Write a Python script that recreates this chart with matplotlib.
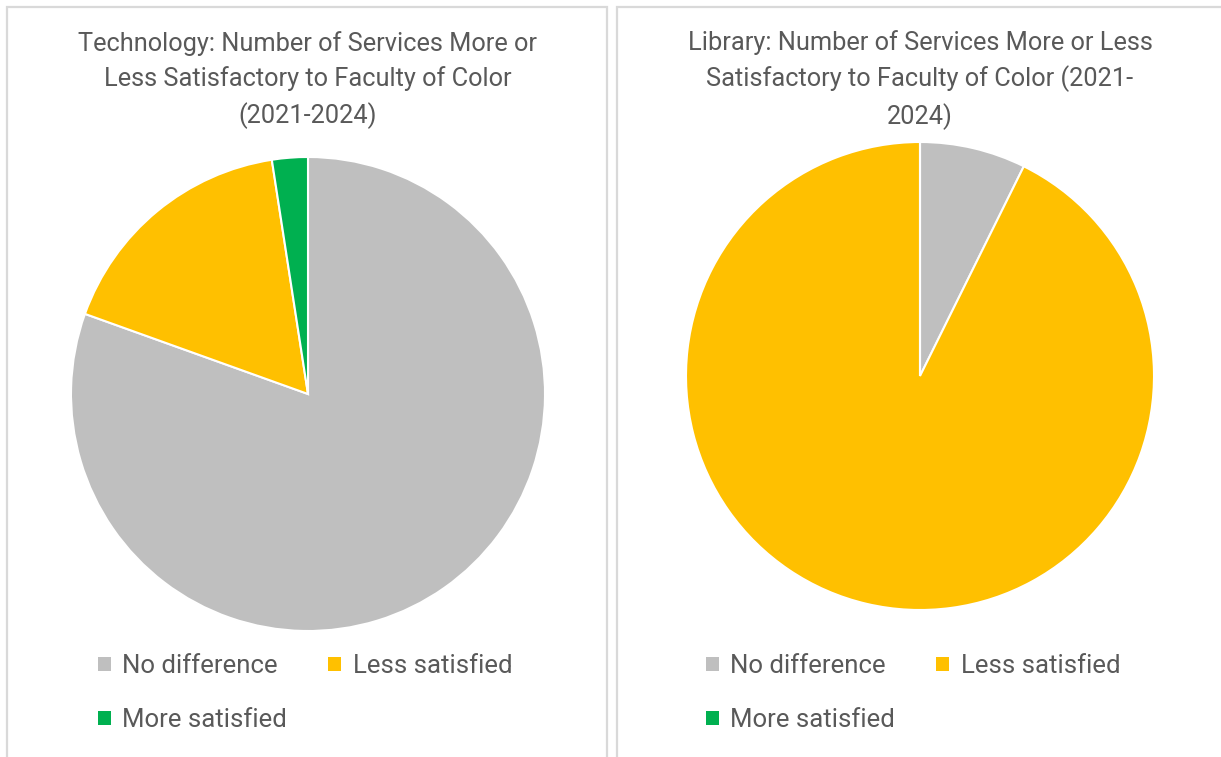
import matplotlib.pyplot as plt
from matplotlib.patches import Rectangle

# data
categories = ['No difference', 'Less satisfied', 'More satisfied']
tech_counts = [33, 7, 1]
library_counts = [3, 38, 0]
colors = ['#BFBFBF', '#FFC000', '#00B050']

tech_title = 'Technology: Number of Services More or\nLess Satisfactory to Faculty of Color\n(2021-2024)'
library_title = 'Library: Number of Services More or Less\nSatisfactory to Faculty of Color (2021-\n2024)'

W, H = 1221, 757
plt.rcParams['font.family'] = ['Roboto', 'DejaVu Sans']
fig = plt.figure(figsize=(W / 100, H / 100), dpi=100)

def px(x, y):
    # pixel (from top-left) -> figure coords
    return x / W, 1 - y / H

# panel borders
for x0, x1 in [(7, 607), (617, 1230)]:
    fig.patches.append(Rectangle(px(x0, 770), (x1 - x0) / W, (770 - 7) / H,
                                 transform=fig.transFigure, fill=False,
                                 edgecolor='#D9D9D9', lw=1.6))

def draw(cx, cy, r, counts, title, title_x, leg_x):
    ax = fig.add_axes([(cx - r) / W, 1 - (cy + r) / H, 2 * r / W, 2 * r / H])
    wedges, _ = ax.pie(counts, colors=colors, startangle=90, counterclock=False,
                       wedgeprops=dict(edgecolor='white', linewidth=1.5))
    ax.set_xlim(-1, 1)
    ax.set_ylim(-1, 1)
    ax.set_aspect('equal')
    fig.text(*px(title_x, 80), title, ha='center', va='center', fontsize=18.3,
             color='#595959', linespacing=1.5)
    order = [0, 2, 1]
    leg = fig.legend([wedges[i] for i in order], [categories[i] for i in order],
                     ncol=2, loc='upper left', bbox_to_anchor=px(leg_x, 654),
                     frameon=False, fontsize=18.5, handlelength=0.5, handleheight=0.5,
                     handletextpad=0.45, columnspacing=1.6, labelspacing=1.17,
                     borderpad=0, borderaxespad=0, labelcolor='#595959')
    for h in leg.legend_handles:
        h.set_edgecolor('none')

draw(308, 394, 237, tech_counts, tech_title, 308, 98)
draw(920, 376, 234, library_counts, library_title, 920, 706)

fig.savefig('out.png', dpi=100)
